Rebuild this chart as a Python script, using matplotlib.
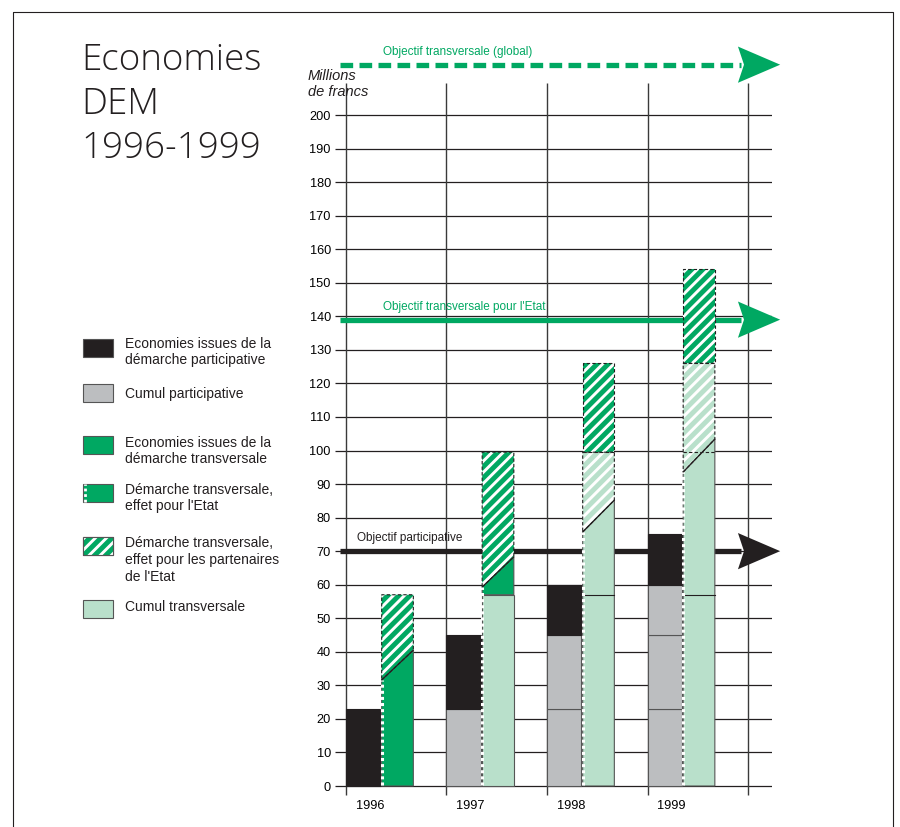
import matplotlib
matplotlib.use('Agg')
import matplotlib.pyplot as plt
from matplotlib.patches import Polygon, Rectangle
from matplotlib.lines import Line2D

# ---- données (millions de francs) ----
annees = ['1996', '1997', '1998', '1999']
# démarche participative : total cumulé fin d'année
part_total = [23, 45, 60, 75]
# démarche transversale : total cumulé et cumul des années précédentes
trans_total = [57, 99.5, 126, 154]
trans_cumul = [0, 57, 99.5, 126]
# limite effet Etat / effet partenaires (bord gauche, bord droit de la barre)
etat_gauche = [31.6, 59.3, 75.7, 93.6]
etat_droite = [40.5, 68.3, 85.2, 103.4]

objectifs = [215, 139, 70]
objectifs_txt = ['Objectif transversale (global)', "Objectif transversale pour l'Etat",
                 'Objectif participative']

legende = ['Economies issues de la\ndémarche participative', 'Cumul participative',
           'Economies issues de la\ndémarche transversale',
           "Démarche transversale,\neffet pour l'Etat",
           "Démarche transversale,\neffet pour les partenaires\nde l'Etat",
           'Cumul transversale']

NOIR = '#231f20'
GRIS = '#bcbec0'
VERT = '#00a862'
VERT_CLAIR = '#b9e0cb'
TRAIT = '#3a3a3a'

plt.rcParams['font.family'] = ['Liberation Sans', 'DejaVu Sans']
plt.rcParams['hatch.linewidth'] = 2.1

fig = plt.figure(figsize=(9, 8.27), dpi=100)
ax = fig.add_axes([0.37215, 0.03740, 0.48578, 0.86411])
ax.set_xlim(-0.11, 4.24)
ax.set_ylim(-3, 210)
for s in ax.spines.values():
    s.set_visible(False)

# grille
ax.hlines(range(0, 201, 10), -0.11, 4.24, color=NOIR, lw=0.9, zorder=1)
ax.vlines(range(5), -2.7, 209.5, color=TRAIT, lw=1, zorder=1)
ax.set_yticks(range(0, 201, 10))
ax.set_yticklabels([str(v) for v in range(0, 201, 10)], fontsize=9.2)
ax.set_xticks([i + 0.24 for i in range(4)])
ax.set_xticklabels(annees, fontsize=9.2)
ax.tick_params(length=0, pad=3)


def zone(pts, fc, hachure=False):
    ax.add_patch(Polygon(pts, closed=True, facecolor=fc, edgecolor='none', zorder=3))
    if hachure:
        ax.add_patch(Polygon(pts, closed=True, facecolor='none', edgecolor='white',
                             hatch='///', linewidth=0, zorder=3.1))
    ax.add_patch(Polygon(pts, closed=True, fill=False, edgecolor=NOIR if hachure else '#555555',
                         linewidth=0.8, linestyle=(0, (3, 2)) if hachure else '-', zorder=3.2))


# barres participatives
for i in range(4):
    bas = 0
    for t in part_total[:i]:
        ax.bar(i, t - bas, bottom=bas, width=0.34, align='edge', color=GRIS,
               edgecolor='#555555', linewidth=0.8, zorder=3)
        bas = t
    ax.bar(i, part_total[i] - bas, bottom=bas, width=0.34, align='edge', color=NOIR,
           edgecolor=NOIR, linewidth=0.8, zorder=3)

# barres transversales
for i in range(4):
    x0, x1 = i + 0.355, i + 0.67
    dl, dr = etat_gauche[i], etat_droite[i]
    c, t = trans_cumul[i], trans_total[i]
    if c <= dl:
        if c > 0:
            zone([(x0, 0), (x1, 0), (x1, c), (x0, c)], VERT_CLAIR)
        zone([(x0, c), (x1, c), (x1, dr), (x0, dl)], VERT)
        zone([(x0, dl), (x1, dr), (x1, t), (x0, t)], VERT, hachure=True)
    else:
        zone([(x0, 0), (x1, 0), (x1, dr), (x0, dl)], VERT_CLAIR)
        zone([(x0, dl), (x1, dr), (x1, c), (x0, c)], VERT_CLAIR, hachure=True)
        zone([(x0, c), (x1, c), (x1, t), (x0, t)], VERT, hachure=True)
    # niveaux des années précédentes
    for niv in trans_total[:i]:
        if 0 < niv < c:
            ax.plot([x0, x1], [niv, niv], color=NOIR, lw=0.8,
                    ls='-' if niv < dl else (0, (3, 2)), zorder=3.3)
    ax.plot([x0, x1], [dl, dr], color=NOIR, lw=0.8, zorder=3.3)
    ax.plot([x0, x0], [0.3, dl], color='white', lw=2.2, ls=(0, (1, 1)), zorder=3.4)

# objectifs
styles = [(VERT, (0, (2.4, 1.2))), (VERT, '-'), (NOIR, '-')]
pos_txt = [(0.37, 218.8), (0.37, 142.8), (0.11, 73.9)]
for y, txt, (coul, ls), (tx, ty) in zip(objectifs, objectifs_txt, styles, pos_txt):
    ax.plot([-0.06, 3.93], [y, y], color=coul, lw=3.8, ls=ls, clip_on=False, zorder=2,
            solid_capstyle='butt', dash_capstyle='butt')
    ax.add_patch(Polygon([(3.90, y + 5.4), (4.32, y), (3.90, y - 5.4), (3.96, y)],
                         closed=True, facecolor=coul, edgecolor='none', clip_on=False, zorder=2))
    ax.text(tx, ty, txt, color=coul, fontsize=8.5, va='center', ha='left', zorder=5,
            clip_on=False)

# titres
fig.text(81 / 900, 1 - 104 / 827, 'Economies\nDEM\n1996-1999', fontsize=26.5,
         family=['Open Sans', 'DejaVu Sans'], fontweight='light', va='center', ha='left',
         linespacing=1.25, color=NOIR)
fig.text(308 / 900, 1 - 84 / 827, 'Millions\nde francs', fontsize=10.5, style='italic',
         va='center', ha='left', linespacing=1.1, color=NOIR)

# légende
leg_y = [348, 393, 445, 493, 546, 609]
leg_txt_y = [352, 394, 451, 498, 560, 607]
leg_coul = [NOIR, GRIS, VERT, VERT, VERT, VERT_CLAIR]
for k, (yb, yt, coul, txt) in enumerate(zip(leg_y, leg_txt_y, leg_coul, legende)):
    x0, y0 = 83 / 900, 1 - (yb + 9) / 827
    w, h = 30 / 900, 18 / 827
    fig.add_artist(Rectangle((x0, y0), w, h, facecolor=coul, edgecolor='#555555',
                             linewidth=0.8))
    if k == 4:
        fig.add_artist(Rectangle((x0, y0), w, h, facecolor='none', edgecolor='white',
                                 hatch='///', linewidth=0))
        fig.add_artist(Rectangle((x0, y0), w, h, fill=False, edgecolor='#555555',
                                 linewidth=0.8))
    if k == 3:
        fig.add_artist(Line2D([x0 + 1.5 / 900] * 2, [y0, y0 + h], color='white', lw=2,
                              ls=(0, (1, 1))))
    fig.text(125 / 900, 1 - yt / 827, txt, fontsize=10, va='center', ha='left',
             linespacing=1.25, color=NOIR)

# cadre
fig.add_artist(Line2D([13 / 900, 13 / 900, 893 / 900, 893 / 900],
                      [0, 1 - 12 / 827, 1 - 12 / 827, 0], color=NOIR, lw=0.8))

fig.savefig('out.png', dpi=100)
